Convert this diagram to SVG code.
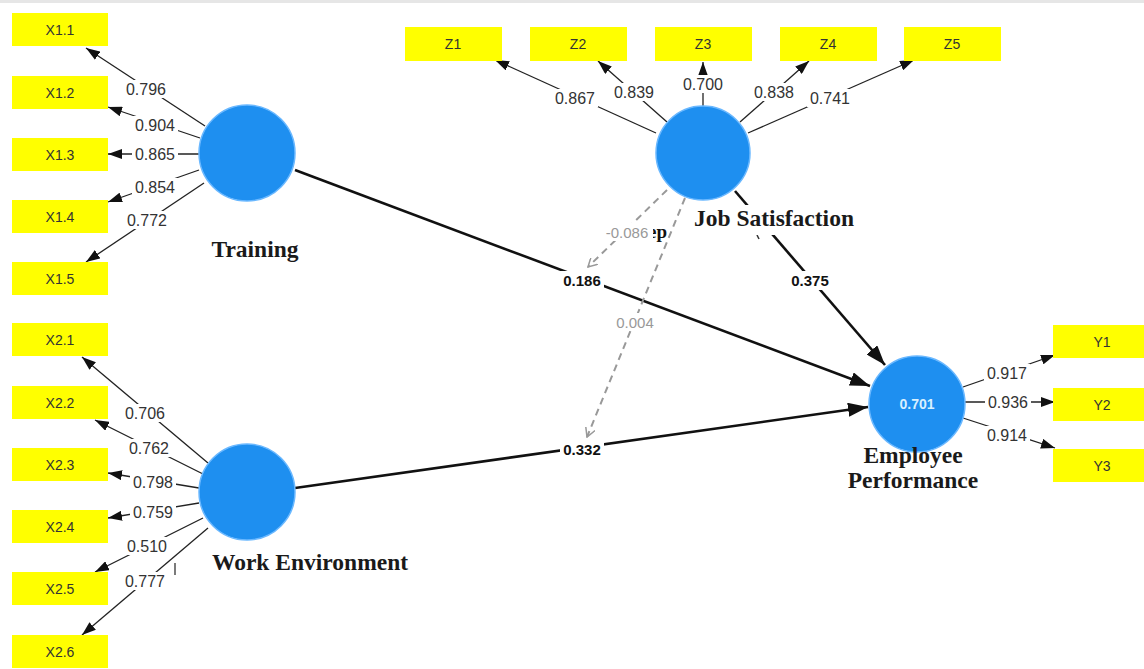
<svg xmlns="http://www.w3.org/2000/svg" width="1144" height="669" viewBox="0 0 1144 669">
<style>
.bx{fill:#ffff00}
.bt{font-family:"Liberation Sans",Arial,sans-serif;font-size:14px;fill:#333;text-anchor:middle;dominant-baseline:central}
.lv{stroke:#222;stroke-width:1.3;fill:none}
.st{stroke:#111;stroke-width:2.6;fill:none}
.ds{stroke:#999;stroke-width:2;fill:none;stroke-dasharray:7 5}
.lb{fill:#fff}
.lt{font-family:"Liberation Sans",Arial,sans-serif;font-size:16px;fill:#333;text-anchor:middle;dominant-baseline:central}
.sb{font-family:"Liberation Sans",Arial,sans-serif;font-size:15px;font-weight:bold;fill:#111;text-anchor:middle;dominant-baseline:central}
.gt{font-family:"Liberation Sans",Arial,sans-serif;font-size:15px;fill:#999;text-anchor:middle;dominant-baseline:central}
.cc{fill:#1e8ff0;stroke:#6ab8ff;stroke-width:1.5}
.nm{font-family:"Liberation Serif","Times New Roman",serif;font-size:23.5px;font-weight:bold;fill:#1a1a1a;text-anchor:middle}
</style>
<defs>
<marker id="a" markerUnits="userSpaceOnUse" markerWidth="14" markerHeight="10" refX="14" refY="5" orient="auto"><path d="M0,0 L14,5 L0,10 z" fill="#111"/></marker>
<marker id="b" markerUnits="userSpaceOnUse" markerWidth="20" markerHeight="14" refX="20" refY="7" orient="auto"><path d="M0,0 L20,7 L0,14 z" fill="#111"/></marker>
<marker id="c" markerUnits="userSpaceOnUse" markerWidth="10" markerHeight="10" refX="9" refY="5" orient="auto"><path d="M0,0 L9,5 L0,10" fill="none" stroke="#999" stroke-width="1.5"/></marker>
</defs>
<rect width="1144" height="669" fill="#fff"/>
<rect x="0" y="0" width="1144" height="3" fill="#e6e6e6"/>

<g id="connectors">
<line class="lv" x1="205" y1="126" x2="86" y2="48" marker-end="url(#a)"/>
<line class="lv" x1="200" y1="138" x2="108" y2="107" marker-end="url(#a)"/>
<line class="lv" x1="199" y1="154" x2="108" y2="154" marker-end="url(#a)"/>
<line class="lv" x1="199" y1="170" x2="108" y2="202" marker-end="url(#a)"/>
<line class="lv" x1="204" y1="183" x2="86" y2="262" marker-end="url(#a)"/>
<line class="lv" x1="208" y1="463" x2="82" y2="357" marker-end="url(#a)"/>
<line class="lv" x1="203" y1="474" x2="95" y2="420" marker-end="url(#a)"/>
<line class="lv" x1="199" y1="488" x2="108" y2="473" marker-end="url(#a)"/>
<line class="lv" x1="199" y1="503" x2="108" y2="518" marker-end="url(#a)"/>
<line class="lv" x1="203" y1="518" x2="95" y2="572" marker-end="url(#a)"/>
<line class="lv" x1="208" y1="528" x2="82" y2="635" marker-end="url(#a)"/>
<line class="lv" x1="656" y1="133" x2="495" y2="60" marker-end="url(#a)"/>
<line class="lv" x1="667" y1="122" x2="598" y2="61" marker-end="url(#a)"/>
<line class="lv" x1="703" y1="107" x2="703" y2="62" marker-end="url(#a)"/>
<line class="lv" x1="740" y1="122" x2="809" y2="61" marker-end="url(#a)"/>
<line class="lv" x1="748" y1="133" x2="914" y2="60" marker-end="url(#a)"/>
<line class="lv" x1="963" y1="387" x2="1055" y2="355" marker-end="url(#a)"/>
<line class="lv" x1="965" y1="402" x2="1055" y2="402" marker-end="url(#a)"/>
<line class="lv" x1="963" y1="418" x2="1055" y2="448" marker-end="url(#a)"/>
<line class="st" x1="295" y1="170" x2="870" y2="386" marker-end="url(#b)"/>
<line class="st" x1="295" y1="488" x2="868" y2="407" marker-end="url(#b)"/>
<line class="st" x1="735" y1="191" x2="885" y2="365" marker-end="url(#b)"/>
<line class="ds" x1="667" y1="190" x2="588" y2="267" marker-end="url(#c)"/>
<line class="ds" x1="685" y1="198" x2="587" y2="437" marker-end="url(#c)"/>
<line x1="175" y1="563" x2="175" y2="575" stroke="#333" stroke-width="1.3"/>
<line x1="757" y1="235" x2="759" y2="239" stroke="#333" stroke-width="1.5"/>
</g>

<g id="labels">
<rect class="lb" x="123" y="80" width="46" height="18"/><text class="lt" x="146" y="89">0.796</text>
<rect class="lb" x="132" y="116" width="46" height="18"/><text class="lt" x="155" y="125">0.904</text>
<rect class="lb" x="132" y="145" width="46" height="18"/><text class="lt" x="155" y="154">0.865</text>
<rect class="lb" x="132" y="178" width="46" height="18"/><text class="lt" x="155" y="187">0.854</text>
<rect class="lb" x="124" y="211" width="46" height="18"/><text class="lt" x="147" y="220">0.772</text>

<rect class="lb" x="122" y="404" width="46" height="18"/><text class="lt" x="145" y="413">0.706</text>
<rect class="lb" x="126" y="439" width="46" height="18"/><text class="lt" x="149" y="448">0.762</text>
<rect class="lb" x="130" y="473" width="46" height="18"/><text class="lt" x="153" y="482">0.798</text>
<rect class="lb" x="130" y="503" width="46" height="18"/><text class="lt" x="153" y="512">0.759</text>
<rect class="lb" x="124" y="537" width="46" height="18"/><text class="lt" x="147" y="546">0.510</text>
<rect class="lb" x="122" y="572" width="46" height="18"/><text class="lt" x="145" y="581">0.777</text>

<rect class="lb" x="552" y="89" width="46" height="18"/><text class="lt" x="575" y="98">0.867</text>
<rect class="lb" x="611" y="83" width="46" height="18"/><text class="lt" x="634" y="92">0.839</text>
<rect class="lb" x="680" y="75" width="46" height="18"/><text class="lt" x="703" y="84">0.700</text>
<rect class="lb" x="751" y="83" width="46" height="18"/><text class="lt" x="774" y="92">0.838</text>
<rect class="lb" x="807" y="89" width="46" height="18"/><text class="lt" x="830" y="98">0.741</text>

<rect class="lb" x="984" y="364" width="46" height="18"/><text class="lt" x="1007" y="373">0.917</text>
<rect class="lb" x="985" y="393" width="46" height="18"/><text class="lt" x="1008" y="402">0.936</text>
<rect class="lb" x="984" y="426" width="46" height="18"/><text class="lt" x="1007" y="435">0.914</text>

<rect class="lb" x="560" y="271" width="44" height="19"/><text class="sb" x="582" y="280">0.186</text>
<rect class="lb" x="560" y="440" width="44" height="19"/><text class="sb" x="582" y="449">0.332</text>
<rect class="lb" x="788" y="271" width="44" height="19"/><text class="sb" x="810" y="280">0.375</text>

<text x="667" y="238" font-family="Liberation Serif,'Times New Roman',serif" font-size="19" font-weight="bold" fill="#111" text-anchor="end">ep</text>
<rect class="lb" x="603" y="223" width="50" height="18"/><text class="gt" x="627" y="232">-0.086</text>
<rect class="lb" x="613" y="313" width="44" height="18"/><text class="gt" x="635" y="322">0.004</text>
</g>

<g id="training">
<circle class="cc" cx="247" cy="153" r="48"/>
<text class="nm" x="255" y="257">Training</text>
</g>
<g id="work-environment">
<circle class="cc" cx="247" cy="492" r="48"/>
<text class="nm" x="310" y="570">Work Environment</text>
</g>
<g id="job-satisfaction">
<circle class="cc" cx="703" cy="153" r="47"/>
<rect class="lb" x="690" y="205" width="168" height="30"/>
<text class="nm" x="774" y="226">Job Satisfaction</text>
</g>
<g id="employee-performance">
<circle class="cc" cx="917" cy="404" r="48"/>
<text x="917" y="404" font-family="Liberation Sans,Arial,sans-serif" font-size="14" font-weight="bold" fill="#d8f0ff" text-anchor="middle" dominant-baseline="central">0.701</text>
<text class="nm" x="913" y="463">Employee</text>
<text class="nm" x="913" y="488">Performance</text>
</g>

<g id="x1-indicators">
<g id="X1.1"><rect class="bx" x="12" y="13" width="96" height="33"/><text class="bt" x="60" y="30">X1.1</text></g>
<g id="X1.2"><rect class="bx" x="12" y="76" width="96" height="33"/><text class="bt" x="60" y="93">X1.2</text></g>
<g id="X1.3"><rect class="bx" x="12" y="138" width="96" height="33"/><text class="bt" x="60" y="155">X1.3</text></g>
<g id="X1.4"><rect class="bx" x="12" y="200" width="96" height="33"/><text class="bt" x="60" y="217">X1.4</text></g>
<g id="X1.5"><rect class="bx" x="12" y="262" width="96" height="33"/><text class="bt" x="60" y="279">X1.5</text></g>
</g>
<g id="x2-indicators">
<g id="X2.1"><rect class="bx" x="12" y="323" width="96" height="33"/><text class="bt" x="60" y="340">X2.1</text></g>
<g id="X2.2"><rect class="bx" x="12" y="386" width="96" height="33"/><text class="bt" x="60" y="403">X2.2</text></g>
<g id="X2.3"><rect class="bx" x="12" y="448" width="96" height="33"/><text class="bt" x="60" y="465">X2.3</text></g>
<g id="X2.4"><rect class="bx" x="12" y="510" width="96" height="33"/><text class="bt" x="60" y="527">X2.4</text></g>
<g id="X2.5"><rect class="bx" x="12" y="572" width="96" height="33"/><text class="bt" x="60" y="589">X2.5</text></g>
<g id="X2.6"><rect class="bx" x="12" y="635" width="96" height="33"/><text class="bt" x="60" y="652">X2.6</text></g>
</g>
<g id="z-indicators">
<g id="Z1"><rect class="bx" x="405" y="27" width="97" height="34"/><text class="bt" x="453" y="44">Z1</text></g>
<g id="Z2"><rect class="bx" x="530" y="27" width="97" height="34"/><text class="bt" x="578" y="44">Z2</text></g>
<g id="Z3"><rect class="bx" x="655" y="27" width="97" height="34"/><text class="bt" x="703" y="44">Z3</text></g>
<g id="Z4"><rect class="bx" x="780" y="27" width="97" height="34"/><text class="bt" x="828" y="44">Z4</text></g>
<g id="Z5"><rect class="bx" x="904" y="27" width="97" height="34"/><text class="bt" x="952" y="44">Z5</text></g>
</g>
<g id="y-indicators">
<g id="Y1"><rect class="bx" x="1053" y="325" width="96" height="33"/><text class="bt" x="1102" y="342">Y1</text></g>
<g id="Y2"><rect class="bx" x="1053" y="388" width="96" height="33"/><text class="bt" x="1102" y="405">Y2</text></g>
<g id="Y3"><rect class="bx" x="1053" y="449" width="96" height="33"/><text class="bt" x="1102" y="466">Y3</text></g>
</g>
</svg>
